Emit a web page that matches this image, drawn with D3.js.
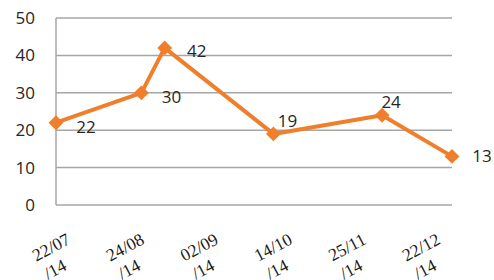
<!DOCTYPE html>
<html>
<head>
<meta charset="utf-8">
<script src="https://cdn.jsdelivr.net/npm/d3@7"></script>
<style>
  html, body { margin: 0; padding: 0; background: #fff; }
  svg { display: block; }
</style>
</head>
<body>
<div id="chart"></div>
<script>
// data
const dates = ["2014-07-22", "2014-08-24", "2014-09-02", "2014-10-14", "2014-11-25", "2014-12-22"];
const values = [22, 30, 42, 19, 24, 13];
const tickLabels = ["22/07", "24/08", "02/09", "14/10", "25/11", "22/12"];
const yearLabel = "/14";
const yTicks = [0, 10, 20, 30, 40, 50];

const width = 494, height = 280;
const parse = d3.timeParse("%Y-%m-%d");
const data = dates.map((d, i) => ({ date: parse(d), value: values[i], label: tickLabels[i] }));

const svg = d3.select("#chart")
  .append("svg")
  .attr("width", width)
  .attr("height", height)
  .attr("viewBox", [0, 0, width, height]);

const x = d3.scaleTime().domain(d3.extent(data, d => d.date)).range([56, 452]);
const y = d3.scaleLinear().domain([0, 50]).range([205, 18]);

// gridlines
svg.append("g")
  .selectAll("line")
  .data(yTicks)
  .join("line")
  .attr("x1", 56)
  .attr("x2", 452)
  .attr("y1", d => y(d))
  .attr("y2", d => y(d))
  .attr("stroke", "#a6a6a6")
  .attr("stroke-width", 1.5);

// left axis line
svg.append("line")
  .attr("x1", 56).attr("x2", 56)
  .attr("y1", y(50)).attr("y2", y(0))
  .attr("stroke", "#a6a6a6")
  .attr("stroke-width", 1.5);

// y tick labels
svg.append("g")
  .selectAll("text")
  .data(yTicks)
  .join("text")
  .attr("x", 35)
  .attr("y", d => y(d))
  .attr("dy", "0.35em")
  .attr("text-anchor", "end")
  .attr("font-family", "'Open Sans', sans-serif")
  .attr("font-size", 17)
  .attr("fill", "#262626")
  .text(d => d);

// x tick labels, rotated, two lines (second one runs off the bottom)
const lx = d3.scalePoint().domain(tickLabels).range([51, 421]);
const xl = svg.append("g")
  .attr("font-family", "'Liberation Serif', 'Times New Roman', serif")
  .attr("font-size", 17.5)
  .attr("fill", "#1a1a1a");
xl.selectAll("text.top")
  .data(data)
  .join("text")
  .attr("class", "top")
  .attr("text-anchor", "middle")
  .attr("dy", "0.35em")
  .attr("transform", d => `translate(${lx(d.label)}, 247) rotate(-28)`)
  .text(d => d.label);
xl.selectAll("text.bottom")
  .data(data)
  .join("text")
  .attr("class", "bottom")
  .attr("text-anchor", "middle")
  .attr("dy", "0.35em")
  .attr("transform", d => `translate(${lx(d.label) + 4}, 269) rotate(-28)`)
  .text(yearLabel);

// the line
const line = d3.line().x(d => x(d.date)).y(d => y(d.value));
svg.append("path")
  .datum(data)
  .attr("fill", "none")
  .attr("stroke", "#f07f2c")
  .attr("stroke-width", 4)
  .attr("stroke-linejoin", "round")
  .attr("d", line);

// diamond markers
svg.append("g")
  .selectAll("path")
  .data(data)
  .join("path")
  .attr("d", d3.symbol(d3.symbolSquare, 110)())
  .attr("transform", d => `translate(${x(d.date)}, ${y(d.value)}) rotate(45)`)
  .attr("fill", "#f07f2c");

// data labels (placement differs per point, as in the picture)
const offsets = [[30, 4], [30, 4], [32, 3], [14, -13], [9, -13], [30, 0]];
svg.append("g")
  .selectAll("text")
  .data(data)
  .join("text")
  .attr("x", (d, i) => x(d.date) + offsets[i][0])
  .attr("y", (d, i) => y(d.value) + offsets[i][1])
  .attr("dy", "0.35em")
  .attr("text-anchor", "middle")
  .attr("font-family", "'Open Sans', sans-serif")
  .attr("font-size", 17)
  .attr("fill", "#262626")
  .text(d => d.value);
</script>
</body>
</html>
